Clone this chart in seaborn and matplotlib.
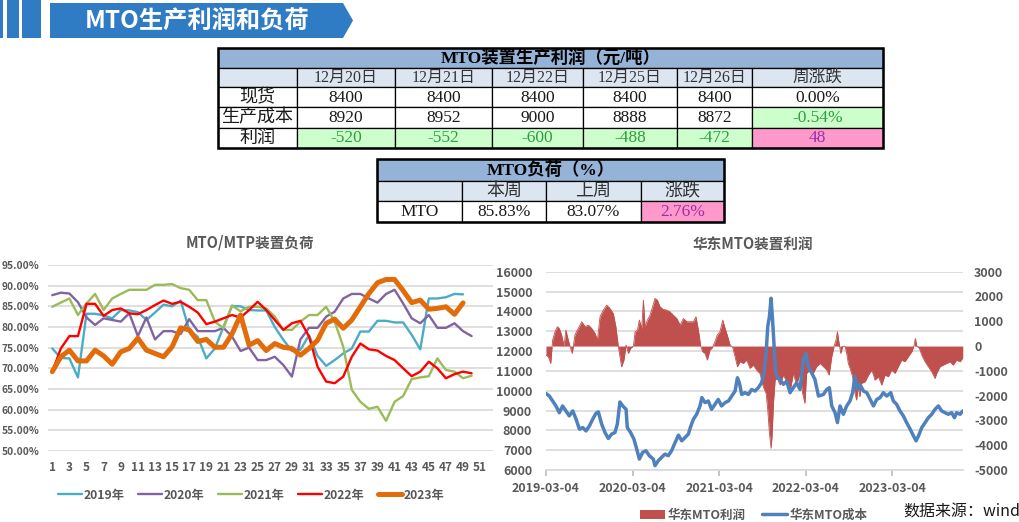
import numpy as np
import pandas as pd
import matplotlib
matplotlib.use("Agg")
import matplotlib.pyplot as plt
import matplotlib.dates as mdates
from matplotlib.patches import Rectangle, Polygon, Patch
from matplotlib.lines import Line2D
from matplotlib.ticker import FuncFormatter
import seaborn as sns

sns.set_theme(style="white")
plt.rcParams["font.family"] = ["Noto Sans CJK SC", "DejaVu Sans"]
plt.rcParams["axes.unicode_minus"] = False

# ---------------- данные: таблица прибыли ----------------
t1_title = "MTO装置生产利润（元/吨）"
t1_dates = ["12月20日", "12月21日", "12月22日", "12月25日", "12月26日"]
t1_rows = ["现货", "生产成本", "利润"]
spot = [8400, 8400, 8400, 8400, 8400]
cost = [8920, 8952, 9000, 8888, 8872]
profit = [-520, -552, -600, -488, -472]
spot_chg = 0.00    # %
cost_chg = -0.54   # %
profit_chg = 48

# ---------------- данные: таблица загрузки ----------------
t2_title = "MTO负荷（%）"
t2_cols = ["本周", "上周", "涨跌"]
load_this = 85.83
load_last = 83.07
load_chg = 2.76

# ---------------- данные: загрузка MTO/MTP по неделям ----------------
load_2019 = [74.8, 72.5, 72.4, 67.8, 83.2, 83.2, 82.8, 82.1, 84.1, 84.0,
             83.6, 81.7, 83.5, 85.4, 85.0, 86.4, 79.3, 77.6, 72.4, 74.8,
             80.0, 85.1, 85.0, 84.1, 84.0, 84.0, 80.0, 76.9, 74.2, 74.5,
             78.0, 73.0, 70.6, 72.0, 73.6, 74.8, 78.9, 78.9, 81.5, 81.5,
             81.1, 81.1, 78.1, 74.6, 86.9, 86.9, 87.2, 88.0, 87.9]
load_2020 = [87.7, 88.3, 88.1, 86.0, 82.3, 80.5, 82.1, 81.7, 81.3, 83.3,
             77.8, 82.3, 77.0, 79.0, 79.0, 78.3, 81.9, 79.0, 79.0, 79.0,
             79.8, 77.7, 74.2, 75.0, 72.0, 72.0, 72.8, 70.8, 68.0, 77.0,
             79.8, 79.8, 82.5, 83.7, 86.9, 88.0, 88.0, 86.9, 85.9, 88.0,
             89.0, 85.7, 82.1, 80.9, 82.9, 79.8, 79.8, 80.9, 79.0, 77.8]
load_2021 = [84.9, 85.9, 86.9, 82.9, 85.7, 88.0, 84.1, 86.9, 88.0, 89.0,
             89.0, 89.0, 90.2, 90.2, 90.4, 89.4, 89.0, 86.5, 86.5, 81.3,
             79.7, 85.2, 83.8, 84.9, 84.9, 84.5, 82.5, 79.3, 79.3, 81.3,
             82.9, 82.9, 84.9, 81.3, 75.2, 64.8, 61.9, 60.2, 60.7, 57.3,
             61.9, 63.3, 67.4, 67.8, 68.1, 72.4, 69.6, 69.2, 67.6, 68.2]
load_2022 = [69.2, 74.8, 77.8, 77.8, 85.6, 85.6, 82.7, 84.1, 84.5, 83.3,
             83.1, 84.1, 85.3, 86.4, 85.6, 86.1, 84.9, 83.5, 80.7, 81.3,
             82.1, 82.9, 82.3, 84.1, 86.1, 84.1, 81.7, 79.3, 80.9, 81.5,
             77.7, 70.4, 66.8, 66.4, 68.0, 72.8, 76.0, 74.6, 74.3, 73.0,
             72.0, 70.0, 68.1, 69.2, 71.6, 70.0, 67.6, 68.6, 69.2, 68.8]
load_2023 = [69.2, 72.8, 74.4, 71.8, 71.8, 74.4, 73.0, 71.0, 74.0, 74.8,
             77.3, 74.4, 73.6, 72.8, 75.2, 79.8, 79.3, 76.5, 77.0, 75.1,
             75.1, 78.3, 82.9, 75.6, 76.7, 74.3, 76.0, 75.1, 74.8, 73.2,
             74.8, 76.8, 80.9, 81.9, 79.7, 81.7, 84.9, 88.1, 90.7, 91.5,
             91.5, 88.8, 85.9, 86.5, 84.3, 84.5, 84.9, 83.07, 85.83]
years = ["2019年", "2020年", "2021年", "2022年", "2023年"]
year_colors = ["#4BACC6", "#8064A2", "#9BBB59", "#FF0000", "#E36C0A"]

# ---------------- данные: прибыль и себестоимость (дни от 2019-03-04) ----------------
start = pd.Timestamp("2019-03-04")
cost_days = [0, 14, 28, 42, 56, 70, 84, 98, 113, 127,
             141, 155, 169, 183, 197, 211, 221, 235, 249, 263,
             277, 291, 301, 312, 324, 338, 343, 357, 371, 383,
             394, 408, 422, 436, 453, 460, 474, 488, 502, 516,
             530, 545, 559, 573, 587, 601,
             608, 622, 636, 650, 658, 671, 685, 699, 713, 727,
             741, 756, 770, 784, 798, 808, 816, 826, 840, 854,
             868, 882, 896, 910, 920, 929, 936, 943, 950, 957,
             962, 968, 976, 988, 1002, 1016, 1030, 1044, 1058, 1072,
             1086, 1097, 1107, 1121, 1135, 1150,
             1171, 1185, 1196, 1206, 1220, 1230, 1241, 1255, 1269, 1283,
             1294, 1304, 1314, 1325, 1340, 1354, 1368, 1382, 1396, 1410,
             1424, 1438, 1455, 1466, 1480, 1494, 1508, 1522, 1537, 1551,
             1562, 1572, 1586, 1600, 1614, 1628, 1642, 1656, 1670, 1684,
             1698, 1712, 1724, 1733, 1748, 1759]
cost_vals = [9860, 9730, 9480, 9230, 8890, 9230, 8980, 8730, 8980, 8560,
             8060, 8140, 7970, 8220, 8560, 8860, 8930, 8310, 7890, 7590,
             7810, 7890, 8310, 9430, 9230, 9060, 8140, 7890, 7560, 7050,
             6550, 6890, 6970, 6720, 6550, 6220, 6470, 6640, 6800, 6720,
             6970, 7390, 7760, 7470, 7640, 7810,
             8100, 8560, 8810, 9230, 9650, 9400, 9480, 9060, 9310, 9560,
             9230, 9400, 9480, 9730, 9980, 10650, 10400, 9810, 9900, 9810,
             10060, 9980, 10150, 10400, 10900, 11900, 13240, 13740, 14660, 13410,
             12400, 11070, 10650, 10570, 10320, 10480, 9900, 10150, 10400, 10060,
             11570, 11900, 11230, 10900, 10570, 9730,
             9810, 10060, 10150, 9230, 8890, 8390, 9230, 8810, 9230, 9480,
             9900, 10730, 10060, 10320, 9980, 9900, 9560, 9230, 9560, 9650,
             9900, 9730, 9900, 9480, 9310, 8980, 8730, 8390, 8060, 7720,
             7470, 7720, 8140, 8390, 8640, 8810, 9060, 9230, 8980, 8890,
             8810, 8890, 8640, 8890, 8810, 8980]
profit_days = [0, 10, 20, 28, 38, 48, 56, 66, 76, 84,
               94, 104, 111, 122, 136, 151, 165, 179, 193, 207,
               217, 228, 242, 256, 270, 284, 295, 305, 312, 319,
               329, 338, 348, 357, 369, 376, 386, 394, 404, 411,
               418, 428, 439, 450, 460, 470, 481, 495, 509, 523,
               537, 552, 566, 580, 594,
               622, 633, 643, 653, 661, 671, 681, 692, 703, 713,
               723, 734, 746, 756, 765, 777, 788, 798, 808, 819,
               833, 847, 861, 875, 889, 903, 917, 929, 936, 943,
               950, 954, 960, 967, 976, 988, 1002, 1016, 1030, 1044,
               1058, 1072, 1083, 1093, 1100, 1114, 1128, 1142,
               1157, 1171, 1185, 1195, 1206, 1216, 1224, 1230, 1235, 1244,
               1252, 1262, 1269, 1276, 1286, 1294, 1304, 1311, 1318, 1325,
               1332, 1347, 1361, 1375, 1389, 1403, 1417, 1431, 1445, 1459,
               1473, 1487, 1501, 1515, 1529, 1544, 1553, 1559, 1565, 1576,
               1586, 1600, 1614, 1628, 1642, 1649, 1663, 1677, 1691, 1705,
               1719, 1733, 1748, 1759]
profit_vals = [-363, -430, -700, 242, 578, 780, 712, 444, 0, 645,
               242, -94, -296, 444, 712, 981, 780, 847, 712, 511,
               242, 1183, 1451, 1653, 1519, 1317, 780, 0, -430, -833,
               -565, 40, -296, -94, 0, 578, 645, 1048, 712, 1855,
               780, 1048, 1250, 1586, 1922, 1855, 1586, 1478, 1451, 1384,
               1250, 1115, 847, 1115, 981,
               981, 1183, 645, 0, -228, -296, -565, -161, -54, 175,
               444, 578, 1048, 712, 444, 40, -54, -430, -833, -632,
               -700, -565, -900, -766, -968, -1102, -1640, -1908, -2580, -3520,
               -4126, -3656, -2311, -1371, -1304, -1572, -1170, -1438, -1841, -1102,
               -1572, -1102, -1908, -2311, -1102, -968, -1102, -833,
               -700, -833, -968, -1170, -430, 0, 242, 578, 242, -296,
               -27, 0, -296, -700, -968, -1236, -1908, -2177, -1640, -2043,
               -1505, -1438, -1170, -968, -1371, -1236, -1572, -1170, -1236, -968,
               -1102, -833, -565, -632, -430, -228, 0, 309, 0, -94,
               -363, -632, -833, -1035, -1304, -1102, -833, -766, -700, -632,
               -766, -565, -632, -470]
date_ticks = ["2019-03-04", "2020-03-04", "2021-03-04", "2022-03-04", "2023-03-04"]

W, H = 1019, 522
fig = plt.figure(figsize=(W / 100, H / 100), dpi=100)

# слой в пикселях для баннера и таблиц
bg = fig.add_axes([0, 0, 1, 1])
bg.set_xlim(0, W)
bg.set_ylim(H, 0)
bg.axis("off")

BLUE = "#2F7BC4"
for x0, x1 in [(0, 3), (7, 19), (22, 41)]:
    bg.add_patch(Rectangle((x0, 0), x1 - x0, 38, color=BLUE, lw=0))
bg.add_patch(Polygon([(50, 3), (343, 3), (353, 20.5), (343, 38), (50, 38)],
                     closed=True, color=BLUE, lw=0))
bg.text(197, 21, "MTO生产利润和负荷", color="white", fontsize=17.5,
        fontweight="bold", ha="center", va="center")

TFONT = ["Liberation Serif", "Noto Sans CJK SC"]
HEAD_BG = "#95B3D7"
SUB_BG = "#DCE6F1"
GREEN_BG = "#CCFFCC"
PINK_BG = "#FF99CC"


def cell(x0, x1, y0, y1, text="", face="white", color="#1A1A1A", size=12.5, weight="normal"):
    bg.add_patch(Rectangle((x0, y0), x1 - x0, y1 - y0, facecolor=face,
                           edgecolor="black", lw=0.9))
    if text:
        bg.text((x0 + x1) / 2, (y0 + y1) / 2 + 0.5, text, ha="center", va="center",
                fontsize=size, color=color, fontweight=weight, family=TFONT)


# таблица 1
cx = [218, 297, 395, 492, 583, 677, 752, 883]
ry = [48, 68, 87, 107, 128, 148]
cell(cx[0], cx[-1], ry[0], ry[1], t1_title, face=HEAD_BG, size=12.5, weight="bold", color="black")
cell(cx[0], cx[1], ry[1], ry[2], face=SUB_BG)
for i, d in enumerate(t1_dates):
    cell(cx[i + 1], cx[i + 2], ry[1], ry[2], d, face=SUB_BG, color="#333333", size=11.5)
cell(cx[6], cx[7], ry[1], ry[2], "周涨跌", face=SUB_BG, color="#333333", size=12)
for r, (name, vals) in enumerate(zip(t1_rows, [spot, cost, profit])):
    y0, y1 = ry[r + 2], ry[r + 3]
    cell(cx[0], cx[1], y0, y1, name, size=13)
    for i, v in enumerate(vals):
        if name == "利润":
            cell(cx[i + 1], cx[i + 2], y0, y1, str(v), face=GREEN_BG, color="#2E9E3E")
        else:
            cell(cx[i + 1], cx[i + 2], y0, y1, str(v))
cell(cx[6], cx[7], ry[2], ry[3], f"{spot_chg:.2f}%")
cell(cx[6], cx[7], ry[3], ry[4], f"{cost_chg:.2f}%", face=GREEN_BG, color="#2E9E3E")
cell(cx[6], cx[7], ry[4], ry[5], str(profit_chg), face=PINK_BG, color="#9A2FA8")
bg.add_patch(Rectangle((cx[0], ry[0]), cx[-1] - cx[0], ry[-1] - ry[0],
                       fill=False, edgecolor="black", lw=1.8))

# таблица 2
cx2 = [377, 462, 546, 641, 724]
ry2 = [159, 181, 201, 222]
cell(cx2[0], cx2[-1], ry2[0], ry2[1], t2_title, face=HEAD_BG, size=12.5, weight="bold", color="black")
cell(cx2[0], cx2[1], ry2[1], ry2[2], face=SUB_BG)
for i, c in enumerate(t2_cols):
    cell(cx2[i + 1], cx2[i + 2], ry2[1], ry2[2], c, face=SUB_BG, color="#333333", size=13)
cell(cx2[0], cx2[1], ry2[2], ry2[3], "MTO")
cell(cx2[1], cx2[2], ry2[2], ry2[3], f"{load_this:.2f}%")
cell(cx2[2], cx2[3], ry2[2], ry2[3], f"{load_last:.2f}%")
cell(cx2[3], cx2[4], ry2[2], ry2[3], f"{load_chg:.2f}%", face=PINK_BG, color="#9A2FA8")
bg.add_patch(Rectangle((cx2[0], ry2[0]), cx2[-1] - cx2[0], ry2[-1] - ry2[0],
                       fill=False, edgecolor="black", lw=1.8))

GRAY = "#595959"
GRID = "#D9D9D9"

# --- MTO/MTP 装置负荷 ---
axL = fig.add_axes([48 / W, 1 - 451 / H, 445 / W, 186 / H])
series = [load_2019, load_2020, load_2021, load_2022, load_2023]
handles = []
for yr, vals, col in zip(years, series, year_colors):
    lw = 3.6 if yr == "2023年" else 1.7
    wk = list(range(1, len(vals) + 1))
    sns.lineplot(x=wk, y=vals, ax=axL, color=col, linewidth=lw)
    handles.append(Line2D([0], [0], color=col, lw=lw))
axL.set_xlim(0.5, 52.5)
axL.set_ylim(50, 95)
axL.set_yticks(range(50, 96, 5))
axL.set_xticks(range(1, 52, 2))
axL.yaxis.set_major_formatter(FuncFormatter(lambda v, p: f"{v:.2f}%"))
axL.grid(axis="y", color=GRID, lw=1.2)
axL.grid(axis="x", visible=False)
for s in axL.spines.values():
    s.set_visible(False)
axL.tick_params(axis="y", length=0, pad=6, labelsize=7.4, labelcolor=GRAY)
axL.tick_params(axis="x", length=0, pad=7, labelsize=8.5, labelcolor=GRAY)
for t in axL.get_xticklabels() + axL.get_yticklabels():
    t.set_fontweight("bold")
axL.set_xlabel("")
axL.set_ylabel("")
fig.text(250 / W, 1 - 243 / H, "MTO/MTP装置负荷", ha="center", va="center",
         fontsize=10.5, fontweight="bold", color=GRAY)
legL = fig.legend(handles, years, ncol=5, loc="center", bbox_to_anchor=(251 / W, 1 - 495 / H),
                  frameon=False, handlelength=2.0, handletextpad=0.1, columnspacing=1.1,
                  prop={"size": 8.8, "weight": "bold"})
for t in legL.get_texts():
    t.set_color(GRAY)

# --- 华东MTO装置利润 ---
cost_dates = start + pd.to_timedelta(cost_days, unit="D")
profit_dates = start + pd.to_timedelta(profit_days, unit="D")

axR = fig.add_axes([546 / W, 1 - 470 / H, 417 / W, 198.3 / H])
axP = axR.twinx()
axC = axR.twinx()

axR.set_ylim(6000, 16000)
axR.set_yticks(range(6000, 16001, 1000))
axR.grid(axis="y", color=GRID, lw=1.2)
axR.grid(axis="x", visible=False)
for s in axR.spines.values():
    s.set_visible(False)
axR.spines["bottom"].set_visible(True)
axR.spines["bottom"].set_color(GRID)
axR.spines["bottom"].set_linewidth(1.2)

axP.fill_between(profit_dates, profit_vals, 0, color="#C0504D", lw=0, interpolate=True)
sns.lineplot(x=profit_dates, y=profit_vals, ax=axP, color="#C0504D", linewidth=0.6)
axP.set_ylim(-5000, 3000)
axP.set_yticks(range(-5000, 3001, 1000))
for s in axP.spines.values():
    s.set_visible(False)

sns.lineplot(x=cost_dates, y=cost_vals, ax=axC, color="#4F81BD", linewidth=2.5)
axC.set_ylim(6000, 16000)
axC.yaxis.set_visible(False)
for s in axC.spines.values():
    s.set_visible(False)

for a in (axR, axP, axC):
    a.set_xlabel("")
    a.set_ylabel("")
axR.set_xlim(start, start + pd.Timedelta(days=1760))
axR.set_xticks(pd.to_datetime(date_ticks))
axR.xaxis.set_major_formatter(mdates.DateFormatter("%Y-%m-%d"))
axR.tick_params(axis="x", bottom=True, length=4, color="#BFBFBF", pad=5,
                labelsize=9, labelcolor=GRAY)
axR.tick_params(axis="y", left=False, length=0, pad=10, labelsize=9, labelcolor=GRAY)
axP.tick_params(axis="y", right=False, length=0, pad=8, labelsize=9, labelcolor=GRAY)
for t in axR.get_xticklabels() + axR.get_yticklabels() + axP.get_yticklabels():
    t.set_fontweight("bold")

fig.text(753 / W, 1 - 244 / H, "华东MTO装置利润", ha="center", va="center",
         fontsize=10.5, fontweight="bold", color=GRAY)
hR = [Patch(facecolor="#C0504D", edgecolor="none"), Line2D([0], [0], color="#4F81BD", lw=2.5)]
legR = fig.legend(hR, ["华东MTO利润", "华东MTO成本"], ncol=2, loc="center",
                  bbox_to_anchor=(754 / W, 1 - 515 / H), frameon=False,
                  handlelength=2.0, handletextpad=0.2, columnspacing=1.3,
                  prop={"size": 9, "weight": "bold"})
for t in legR.get_texts():
    t.set_color(GRAY)
fig.text(903 / W, 1 - 512 / H, "数据来源：wind", ha="left", va="center",
         fontsize=11.5, color="#1A1A1A")

fig.savefig("out.png", dpi=100)
